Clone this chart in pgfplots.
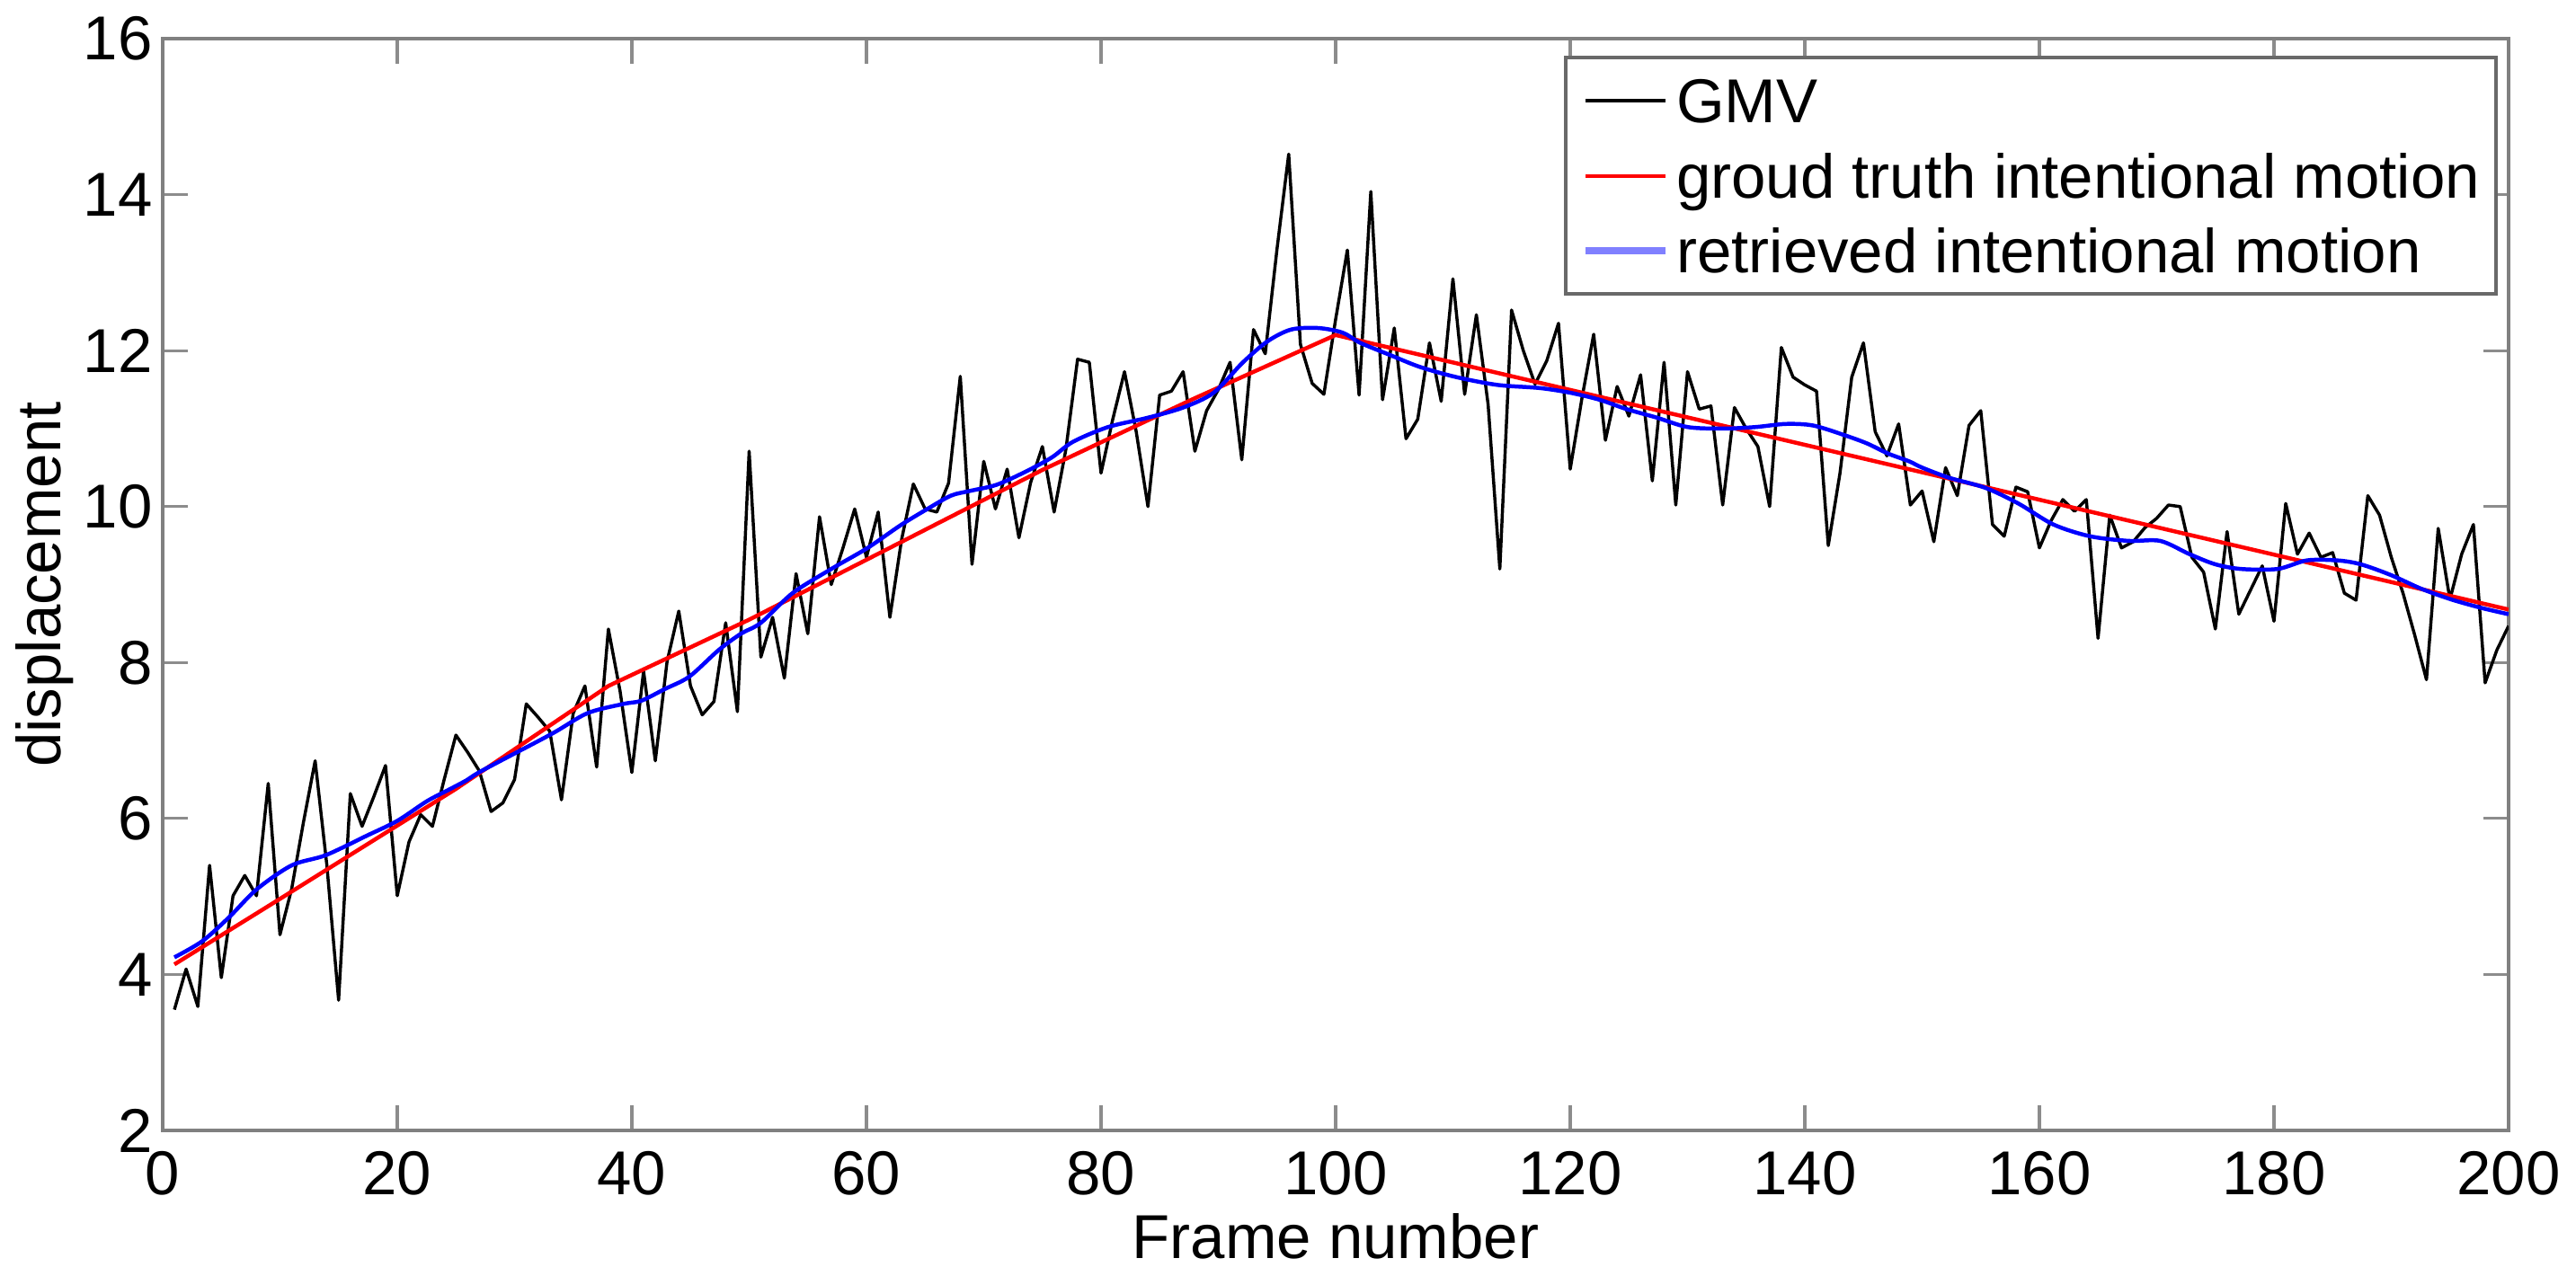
\documentclass[border=0pt]{standalone}
\usepackage{fontspec}
\setmainfont{Liberation Sans}
\usepackage{pgfplots}
\usepackage{pgfplotstable}
\pgfplotsset{compat=1.18}
\definecolor{axgray}{RGB}{128,128,128}
\definecolor{tickgray}{RGB}{140,140,140}
\definecolor{legframe}{RGB}{105,105,105}
\definecolor{legblue}{RGB}{128,128,255}

\pgfplotstableread{
f v
1 3.55
2 4.07
3 3.59
4 5.40
5 3.96
6 5.01
7 5.27
8 5.01
9 6.45
10 4.51
11 5.10
12 5.95
13 6.74
14 5.40
15 3.67
16 6.32
17 5.90
18 6.28
19 6.68
20 5.01
21 5.70
22 6.05
23 5.90
24 6.50
25 7.07
26 6.85
27 6.61
28 6.09
29 6.20
30 6.50
31 7.47
32 7.30
33 7.12
34 6.24
35 7.35
36 7.70
37 6.66
38 8.43
39 7.63
40 6.59
41 7.89
42 6.74
43 8.01
44 8.66
45 7.70
46 7.33
47 7.50
48 8.51
49 7.37
50 10.71
51 8.07
52 8.58
53 7.80
54 9.14
55 8.37
56 9.87
57 9.00
58 9.47
59 9.97
60 9.35
61 9.93
62 8.58
63 9.58
64 10.29
65 9.97
66 9.93
67 10.30
68 11.67
69 9.26
70 10.58
71 9.97
72 10.48
73 9.60
74 10.31
75 10.77
76 9.93
77 10.73
78 11.89
79 11.85
80 10.43
81 11.12
82 11.73
83 10.96
84 10.00
85 11.43
86 11.48
87 11.73
88 10.71
89 11.23
90 11.50
91 11.85
92 10.60
93 12.27
94 11.96
95 13.30
96 14.52
97 12.08
98 11.58
99 11.44
100 12.40
101 13.29
102 11.43
103 14.04
104 11.37
105 12.29
106 10.87
107 11.12
108 12.10
109 11.35
110 12.92
111 11.44
112 12.46
113 11.31
114 9.20
115 12.52
116 12.00
117 11.57
118 11.87
119 12.35
120 10.48
121 11.39
122 12.21
123 10.85
124 11.54
125 11.16
126 11.69
127 10.33
128 11.85
129 10.02
130 11.73
131 11.25
132 11.29
133 10.02
134 11.27
135 11.00
136 10.77
137 10.00
138 12.04
139 11.66
140 11.56
141 11.48
142 9.50
143 10.43
144 11.66
145 12.10
146 10.96
147 10.65
148 11.06
149 10.02
150 10.20
151 9.55
152 10.50
153 10.14
154 11.04
155 11.23
156 9.77
157 9.62
158 10.25
159 10.19
160 9.47
161 9.82
162 10.09
163 9.94
164 10.09
165 8.31
166 9.89
167 9.47
168 9.55
169 9.73
170 9.85
171 10.02
172 10.00
173 9.35
174 9.16
175 8.43
176 9.68
177 8.62
178 8.93
179 9.24
180 8.53
181 10.04
182 9.39
183 9.66
184 9.35
185 9.41
186 8.89
187 8.80
188 10.14
189 9.89
190 9.35
191 8.89
192 8.35
193 7.78
194 9.72
195 8.81
196 9.39
197 9.77
198 7.74
199 8.16
200 8.47
}\gmv

\pgfplotstableread{
f v
1 4.13
10 4.97
25 6.38
38 7.70
50 8.55
75 10.47
88 11.39
100 12.20
200 8.68
}\truth

\pgfplotstableread{
f v
1 4.22
3.4 4.43
5.7 4.74
8 5.09
11 5.40
13.9 5.53
17.4 5.78
20 5.97
22.5 6.22
24.4 6.37
25.9 6.49
27.3 6.62
33.1 7.08
36.2 7.35
39.3 7.47
40.8 7.51
42.8 7.66
44.9 7.82
47.4 8.16
49.3 8.37
51 8.51
53.7 8.89
57 9.20
60.1 9.47
62.9 9.76
65.2 9.97
67.2 10.14
68.8 10.20
71.1 10.28
73.6 10.45
75.8 10.63
77.6 10.83
80.6 11.02
84 11.14
87 11.27
89.6 11.46
92.1 11.85
94.2 12.12
96.2 12.27
98.5 12.29
100.6 12.23
102.1 12.10
104.7 11.94
107.2 11.79
110.3 11.66
113.8 11.56
117.4 11.52
120 11.46
122.5 11.37
124.8 11.25
127.4 11.14
130 11.02
133 11.00
135.8 11.02
138.4 11.06
140.7 11.04
143.3 10.92
145.3 10.81
147.1 10.68
148.9 10.58
150 10.50
152.3 10.37
155.4 10.24
158.2 10.04
161.2 9.77
164.3 9.62
167.6 9.56
170.3 9.56
172.8 9.39
175 9.26
177.2 9.20
180.3 9.20
182.8 9.31
185.4 9.31
187.4 9.26
190 9.12
192.5 8.95
195.1 8.81
197.7 8.70
200 8.62
}\retr

\begin{document}
\begin{tikzpicture}
\useasboundingbox (-26.23pt,-23.33pt) rectangle (389.13pt,182.33pt);
\begin{axis}[
  at={(0,0)}, anchor=south west,
  scale only axis, width=378.26pt, height=176.09pt,
  xmin=0, xmax=200, ymin=2, ymax=16,
  xtick={0,20,...,200}, ytick={2,4,...,16},
  tick align=inside, tick pos=both, major tick length=4.1pt,
  axis line style={draw=axgray, line width=0.6pt},
  tick style={draw=tickgray, line width=0.45pt},
  /pgf/number format/assume math mode=true,
  xticklabel style={anchor=north, inner sep=0pt, yshift=-3.2pt},
  yticklabel style={anchor=east, inner sep=0pt, xshift=-1.45pt},
  xlabel={Frame number}, ylabel={displacement},
  xlabel style={at={([yshift=-20.7pt]axis description cs:0.5,0)}, anchor=base},
  ylabel style={at={([xshift=-16.4pt]axis description cs:0,0.5)}, anchor=base},
  legend cell align=left,
  legend style={at={(1,1)}, anchor=north east, xshift=-1.74pt, yshift=-2.71pt,
    draw=legframe, line width=0.6pt,
    inner xsep=2.6pt, inner ysep=0.95pt,
    nodes={inner sep=0pt, text height=9.65pt, text depth=2.45pt},
    row sep=0pt,
    /tikz/every odd column/.append style={column sep=1.16pt}},
]
\addplot[black, line width=0.5pt, line join=round,
  legend image code/.code={\draw[black, line width=0.6pt] (0pt,0pt) -- (12.9pt,0pt);}]
  table[x=f, y=v] {\gmv};
\addlegendentry{GMV}
\addplot[red, line width=0.65pt,
  legend image code/.code={\draw[red, line width=0.6pt] (0pt,0pt) -- (12.9pt,0pt);}]
  table[x=f, y=v] {\truth};
\addlegendentry{groud truth intentional motion}
\addplot[blue, line width=0.65pt, smooth,
  legend image code/.code={\draw[legblue, line width=1.2pt] (0pt,0pt) -- (12.9pt,0pt);}]
  table[x=f, y=v] {\retr};
\addlegendentry{retrieved intentional motion}
\end{axis}
\end{tikzpicture}
\end{document}
